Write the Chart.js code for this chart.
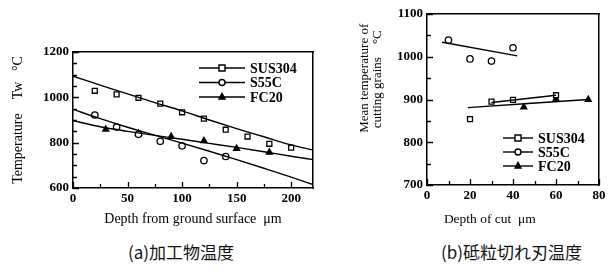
<!DOCTYPE html>
<html>
<head>
<meta charset="utf-8">
<script src="https://cdn.jsdelivr.net/npm/chart.js@4.4.1/dist/chart.umd.min.js"></script>
<style>
body { margin: 0; background: #fff; width: 609px; height: 275px; position: relative; overflow: hidden; }
canvas { position: absolute; top: 0; }
.cap { position: absolute; top: 239px; font-family: "Noto Sans CJK JP"; font-size: 17px; color: #111; white-space: nowrap; }
</style>
</head>
<body>
<canvas id="grafico-a" width="320" height="230" style="left:0"></canvas>
<canvas id="grafico-b" width="289" height="230" style="left:320px"></canvas>
<div class="cap" style="left:128px">(a)加工物温度</div>
<div class="cap" style="left:441px">(b)砥粒切れ刃温度</div>
<script>
// (a) workpiece temperature vs depth
var nomes = ["SUS304", "S55C", "FC20"];

var depthSus = [20, 40, 60, 80, 100, 120, 140, 160, 180, 200];
var tempSus = [1029, 1013, 998, 972, 934, 906, 857, 827, 795, 778];
var depthS55c = [20, 40, 60, 80, 100, 120, 140];
var tempS55c = [922, 869, 837, 806, 786, 721, 739];
var depthFc = [30, 60, 90, 120, 150, 180];
var tempFc = [859, 841, 827, 808, 774, 757];

var depthFit = [0, 25, 50, 75, 100, 125, 150, 175, 200, 220];
var fitSus = [1093, 1054, 1015, 977, 940, 900, 862, 826, 790, 768];
var fitS55c = [947, 906, 868, 833, 798, 762, 725, 687, 648, 615];
var fitFc = [897, 870, 850, 832, 815, 797, 779, 760, 740, 725];

// (b) grain temperature vs depth of cut
var cutSus = [20, 30, 40, 60];
var grainSus = [854, 895, 899, 910];
var cutS55c = [10, 20, 30, 40];
var grainS55c = [1039, 995, 990, 1021];
var cutFc = [45, 60, 75];
var grainFc = [882, 901, 900];

var cutFitSus = [30, 60];
var grainFitSus = [893, 910];
var cutFitS55c = [7, 42];
var grainFitS55c = [1034, 1002];
var cutFitFc = [19, 75];
var grainFitFc = [881, 900];

var preto = "#000";

function pts(xs, ys) {
    return xs.map(function (x, i) { return { x: x, y: ys[i] }; });
}

function linha(xs, ys) {
    return { data: pts(xs, ys), showLine: true, borderColor: preto, borderWidth: 1.4, pointRadius: 0, tension: 0.4, cubicInterpolationMode: 'monotone' };
}

function marcas(xs, ys, estilo, r) {
    return {
        data: pts(xs, ys), showLine: false, pointStyle: estilo, pointRadius: r,
        borderColor: preto, borderWidth: 1.3,
        backgroundColor: estilo == 'triangle' ? preto : '#fff'
    };
}

function desenhaMarca(ctx, estilo, x, y, r) {
    ctx.beginPath();
    if (estilo == 'rect') {
        ctx.rect(x - r, y - r, 2 * r, 2 * r);
    } else if (estilo == 'circle') {
        ctx.arc(x, y, r, 0, Math.PI * 2);
    } else {
        ctx.moveTo(x, y - r * 1.2);
        ctx.lineTo(x + r, y + r * 0.7);
        ctx.lineTo(x - r, y + r * 0.7);
        ctx.closePath();
    }
    ctx.fillStyle = estilo == 'triangle' ? preto : '#fff';
    ctx.fill();
    ctx.stroke();
}

// legend: line with the marker in the middle
var legendaLinhas = {
    id: 'legendaLinhas',
    afterDraw: function (chart, args, opts) {
        var ctx = chart.ctx;
        ctx.save();
        ctx.strokeStyle = preto;
        ctx.lineWidth = 1.4;
        opts.estilos.forEach(function (estilo, i) {
            var y = opts.y + i * opts.gap;
            ctx.beginPath();
            ctx.moveTo(opts.x, y);
            ctx.lineTo(opts.x + opts.len, y);
            ctx.stroke();
            desenhaMarca(ctx, estilo, opts.x + opts.len / 2, y, 3);
            ctx.fillStyle = preto;
            ctx.font = opts.font;
            ctx.textBaseline = 'middle';
            ctx.fillText(nomes[i], opts.x + opts.len + 5, y + 1);
        });
        ctx.restore();
    }
};

// tick marks pointing into the plot, at the scale's own ticks
var ticksInternos = {
    id: 'ticksInternos',
    afterDraw: function (chart) {
        var ctx = chart.ctx;
        var area = chart.chartArea;
        var sx = chart.scales.x, sy = chart.scales.y;
        ctx.save();
        ctx.strokeStyle = preto;
        ctx.lineWidth = 1.3;
        ctx.beginPath();
        sx.ticks.forEach(function (t) {
            var px = Math.round(sx.getPixelForValue(t.value)) + 0.5;
            var len = t.label === '' ? 4 : 6;
            ctx.moveTo(px, area.bottom);
            ctx.lineTo(px, area.bottom - len);
        });
        sy.ticks.forEach(function (t) {
            var py = Math.round(sy.getPixelForValue(t.value)) + 0.5;
            var len = t.label === '' ? 4 : 6;
            ctx.moveTo(area.left, py);
            ctx.lineTo(area.left + len, py);
        });
        ctx.stroke();
        ctx.restore();
    }
};

function eixos(xmin, xmax, xstep, xlab, ymin, ymax, ystep, ylab, xtitulo, ytitulo, fx, fy, yw, xh, xalign, yalign, ypad) {
    var fonteTick = { family: "Liberation Serif", size: 13, weight: 'bold' };
    return {
        x: {
            type: 'linear', position: 'bottom', min: xmin, max: xmax,
            ticks: { stepSize: xstep, color: preto, font: fonteTick, padding: 3, maxRotation: 0, autoSkip: false, includeBounds: false,
                callback: function (v) { return v % xlab === 0 ? v : ''; } },
            grid: { drawOnChartArea: false, drawTicks: false },
            border: { color: preto, width: 1.5 },
            title: { display: true, text: xtitulo, color: preto, font: { family: "Liberation Serif", size: fx }, align: xalign, padding: { top: 4, bottom: 2 } },
            afterFit: function (s) { s.height = xh; }
        },
        y: {
            type: 'linear', position: 'left', min: ymin, max: ymax,
            ticks: { stepSize: ystep, color: preto, font: fonteTick, padding: 4, autoSkip: false, includeBounds: false,
                callback: function (v) { return v % ylab === 0 ? v : ''; } },
            grid: { drawOnChartArea: false, drawTicks: false },
            border: { color: preto, width: 1.5 },
            title: { display: true, text: ytitulo, color: preto, font: { family: "Liberation Serif", size: fy, lineHeight: 1.0 }, align: yalign, padding: { top: ypad, bottom: 0 } },
            afterFit: function (s) { s.width = yw; }
        },
        x2: {
            type: 'linear', position: 'top', min: xmin, max: xmax,
            ticks: { display: false },
            grid: { drawOnChartArea: false, drawTicks: false },
            border: { color: preto, width: 1.5 },
            afterFit: function (s) { s.height = 0; }
        },
        y2: {
            type: 'linear', position: 'right', min: ymin, max: ymax,
            ticks: { display: false },
            grid: { drawOnChartArea: false, drawTicks: false },
            border: { color: preto, width: 1.5 },
            afterFit: function (s) { s.width = 0; }
        }
    };
}

var graficoA = new Chart(document.querySelector("#grafico-a").getContext("2d"), {
    type: 'scatter',
    data: {
        datasets: [
            linha(depthFit, fitSus),
            linha(depthFit, fitS55c),
            linha(depthFit, fitFc),
            marcas(depthSus, tempSus, 'rect', 3.5),
            marcas(depthS55c, tempS55c, 'circle', 3.2),
            marcas(depthFc, tempFc, 'triangle', 3.5)
        ]
    },
    options: {
        responsive: false,
        animation: false,
        devicePixelRatio: 1,
        layout: { padding: { top: 52, right: 7, left: 0, bottom: 0 } },
        scales: eixos(0, 220, 25, 50, 600, 1200, 50, 200,
            "Depth from ground surface  μm", "Temperature    Tw   °C", 14, 14, 73, 42, 'center', 'center', 11),
        plugins: {
            legend: { display: false },
            tooltip: { enabled: false },
            legendaLinhas: { x: 199, y: 68, gap: 14.5, len: 46, estilos: ['rect', 'circle', 'triangle'], font: "bold 14px 'Liberation Serif'" }
        }
    },
    plugins: [legendaLinhas, ticksInternos]
});

var graficoB = new Chart(document.querySelector("#grafico-b").getContext("2d"), {
    type: 'scatter',
    data: {
        datasets: [
            linha(cutFitSus, grainFitSus),
            linha(cutFitS55c, grainFitS55c),
            linha(cutFitFc, grainFitFc),
            marcas(cutSus, grainSus, 'rect', 3.5),
            marcas(cutS55c, grainS55c, 'circle', 3.2),
            marcas(cutFc, grainFc, 'triangle', 3.5)
        ]
    },
    options: {
        responsive: false,
        animation: false,
        devicePixelRatio: 1,
        layout: { padding: { top: 14, right: 10, left: 0, bottom: 0 } },
        scales: eixos(0, 80, 10, 20, 700, 1100, 50, 100,
            "     Depth of cut  μm", ["Mean temperature of   ", "cutting grains    °C     "], 13.5, 13, 107, 45, 'start', 'end', 38),
        plugins: {
            legend: { display: false },
            tooltip: { enabled: false },
            legendaLinhas: { x: 183, y: 138, gap: 14, len: 30, estilos: ['rect', 'circle', 'triangle'], font: "bold 14px 'Liberation Serif'" }
        }
    },
    plugins: [legendaLinhas, ticksInternos]
});
</script>
</body>
</html>
